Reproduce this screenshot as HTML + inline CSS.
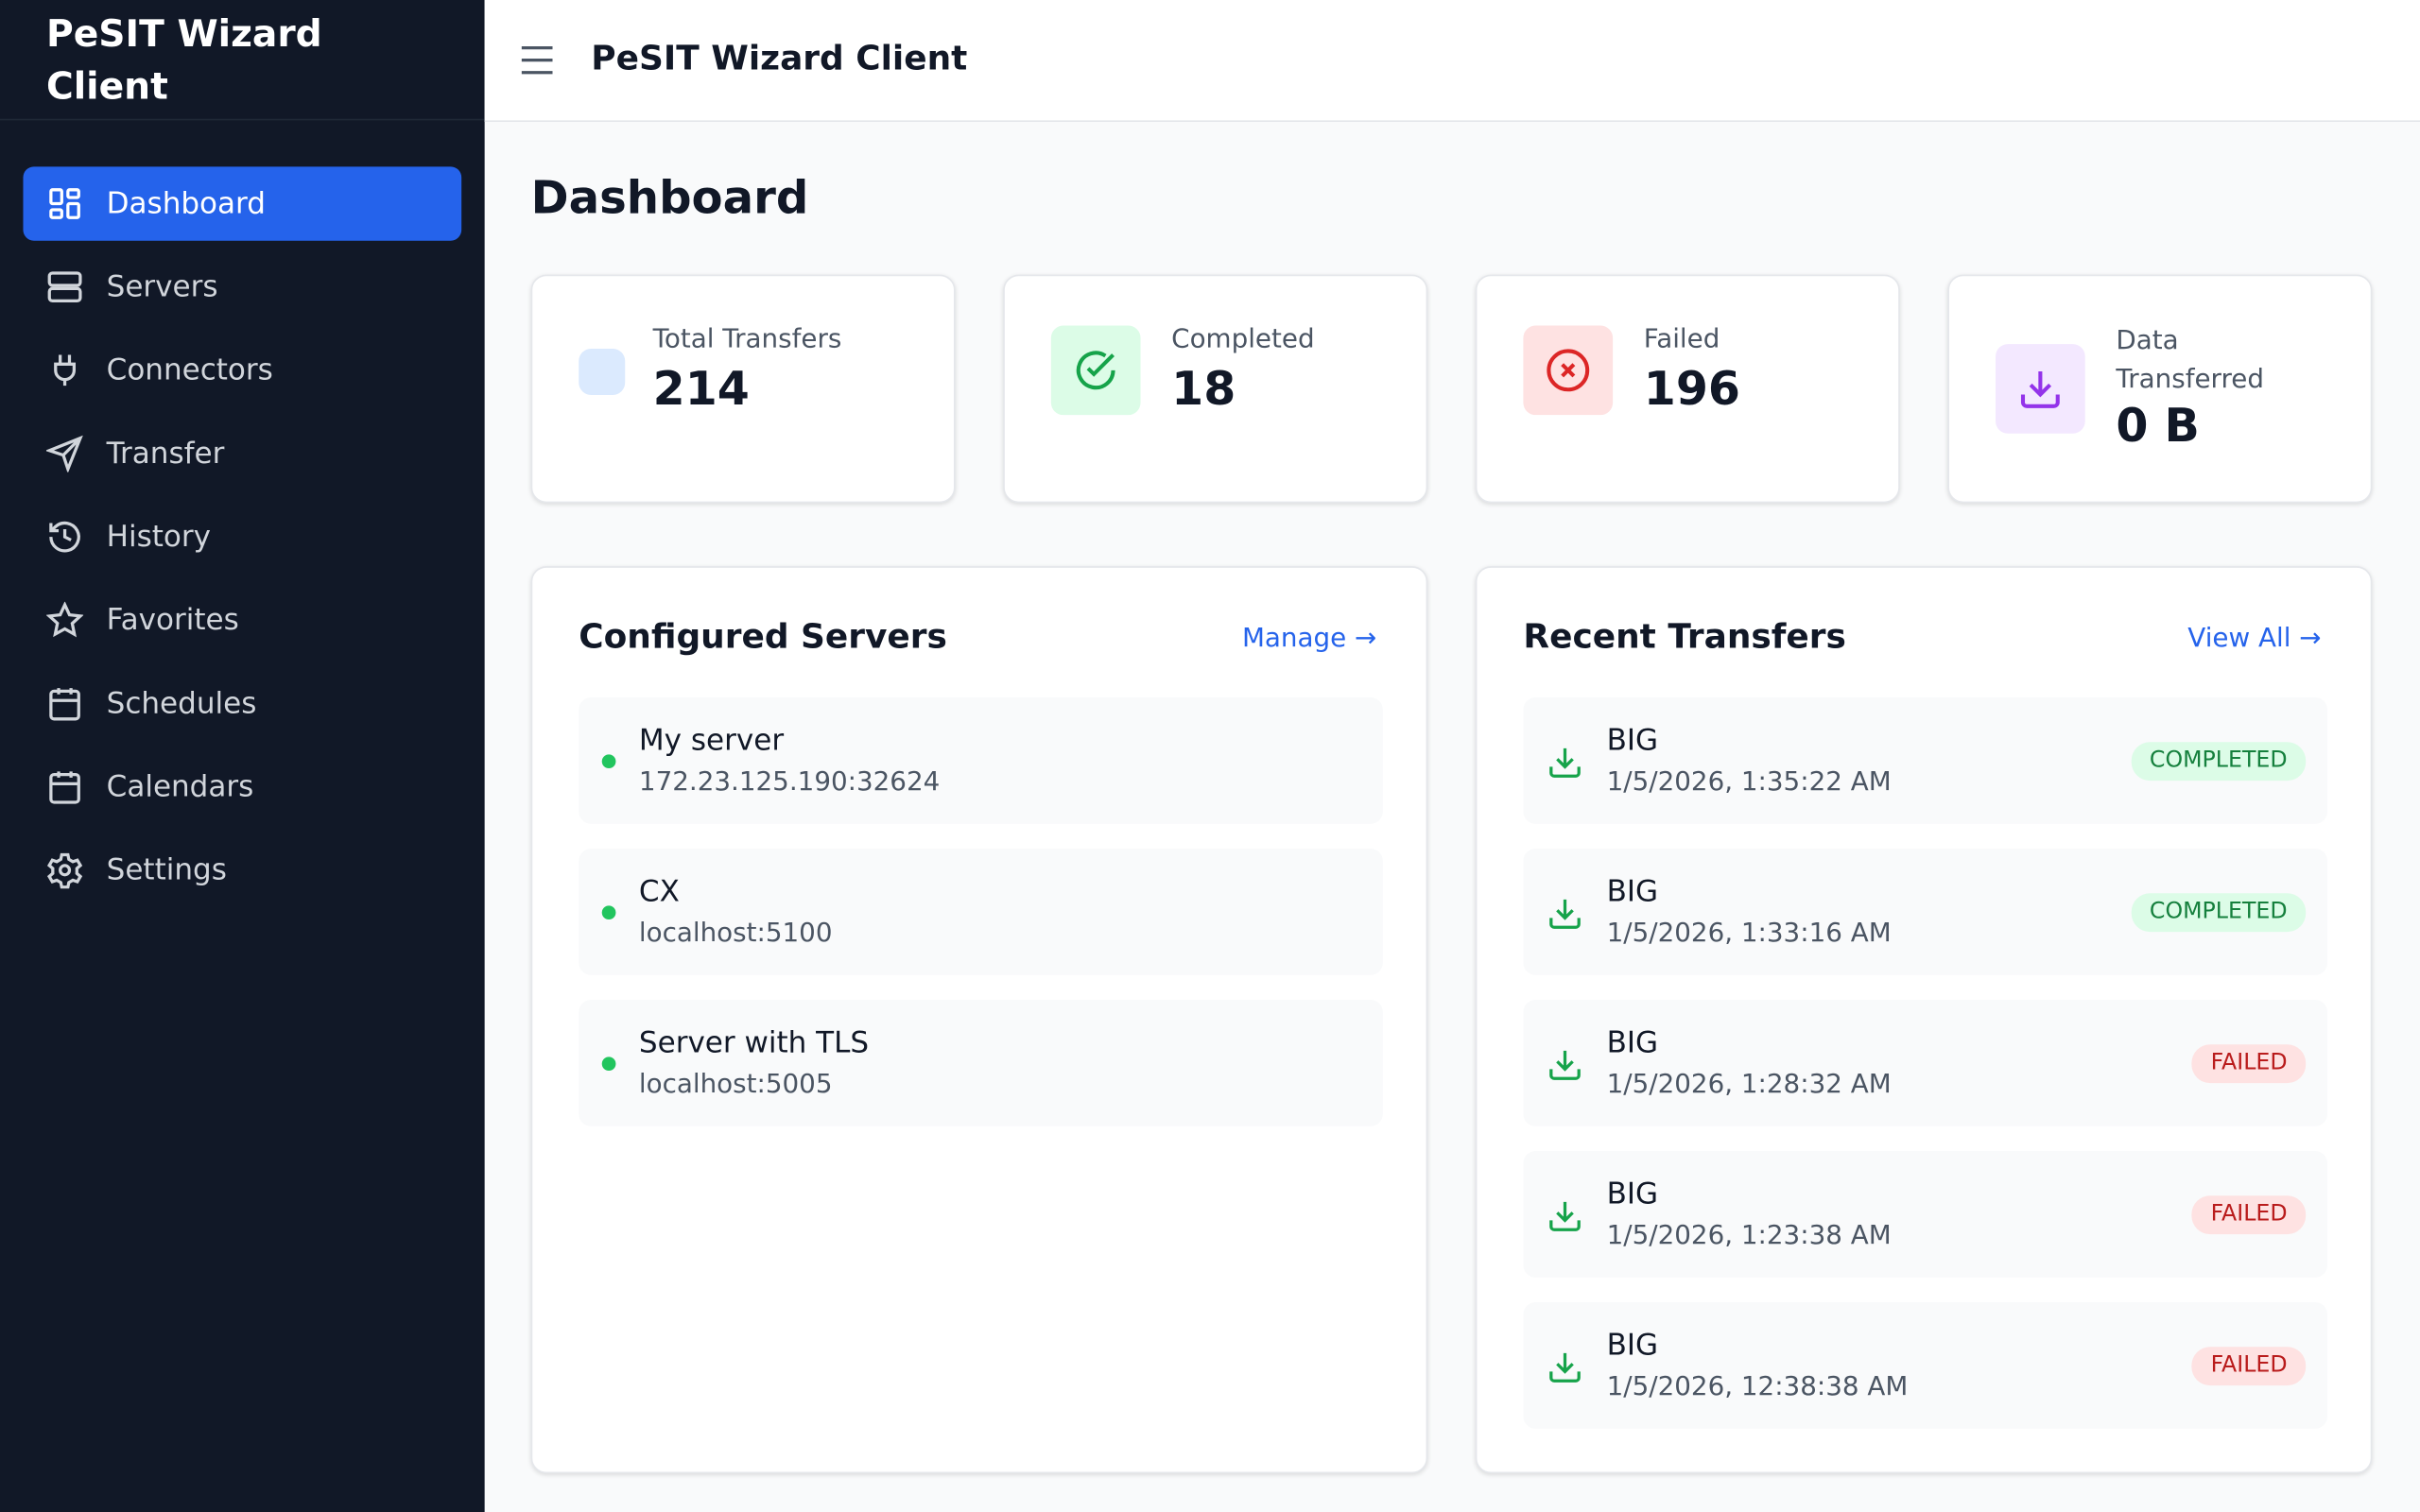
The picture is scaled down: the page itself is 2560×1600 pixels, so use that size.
<!DOCTYPE html>
<html><head><meta charset="utf-8"><style>
*{box-sizing:border-box;margin:0;padding:0}
html,body{width:2560px;height:1600px;overflow:hidden;background:#f9fafb}
#w{position:absolute;left:0;top:0;width:1568px;height:980px;transform:scale(1.632653);transform-origin:0 0;font-family:"DejaVu Sans","Liberation Sans",sans-serif;background:#f9fafb}
.sb{position:absolute;left:0;top:0;width:314px;height:980px;background:#111827}
.sbt{position:absolute;left:30px;top:5px;color:#fff;font-weight:bold;font-size:24px;line-height:34px}
.sbl{position:absolute;left:0;top:77px;width:314px;height:1px;background:#1f2937}
.nav{position:absolute;left:15px;width:284px;height:48px;border-radius:7px;color:#d1d5db;font-size:19px}
.nav.a{background:#2563eb;color:#fff}
.nav svg{position:absolute;left:15px;top:12px}
.nav span{position:absolute;left:54px;top:13px}
.hd{position:absolute;left:314px;top:0;width:1254px;height:79px;background:#fff;border-bottom:1px solid #e5e7eb}
.card{position:absolute;background:#fff;border:1px solid #e5e7eb;border-radius:10px;box-shadow:0 1px 3px rgba(0,0,0,.12)}
.ib{position:absolute;left:30px;top:32px;width:58px;height:58px;border-radius:8px}
.lab{position:absolute;left:108px;font-size:17px;color:#4b5563}
.val{position:absolute;left:108px;font-size:30px;font-weight:bold;color:#111827}
.pt{position:absolute;left:30px;top:33px;font-size:22px;font-weight:bold;color:#111827}
.lk{position:absolute;right:32px;top:36px;font-size:17px;color:#2563eb}
.it{position:absolute;left:30px;width:521px;height:82px;background:#f9fafb;border-radius:8px}
.n{position:absolute;left:39px;top:17px;font-size:19px;color:#111827}
.s{position:absolute;left:39px;top:45px;font-size:17px;color:#4b5563}
.dot{position:absolute;left:15px;top:37px;width:9px;height:9px;border-radius:50%;background:#22c55e}
.bd{position:absolute;right:14px;top:29px;height:25px;border-radius:12px;font-size:14.5px;line-height:25px;padding:0 12px}
.ok{background:#dcfce7;color:#15803d}.fl{background:#fee2e2;color:#b91c1c}
</style></head><body><div id="w">
<div class="sb">
<div class="sbt">PeSIT Wizard<br>Client</div><div class="sbl"></div>
<div class="nav a" style="top:108px"><svg width="24" height="24" viewBox="0 0 24 24" fill="none" stroke="#fff" stroke-width="2"><rect x="3" y="3" width="7" height="9" rx="1"/><rect x="14" y="3" width="7" height="5" rx="1"/><rect x="14" y="12" width="7" height="9" rx="1"/><rect x="3" y="16" width="7" height="5" rx="1"/></svg><span>Dashboard</span></div>
<div class="nav" style="top:162px"><svg width="24" height="24" viewBox="0 0 24 24" fill="none" stroke="#d1d5db" stroke-width="2"><rect x="2" y="3" width="20" height="8" rx="2"/><rect x="2" y="13" width="20" height="8" rx="2"/></svg><span>Servers</span></div>
<div class="nav" style="top:216px"><svg width="24" height="24" viewBox="0 0 24 24" fill="none" stroke="#d1d5db" stroke-width="2"><path d="M9 2v5M15 2v5M6 8h12v4a6 6 0 0 1-12 0zM12 18v4"/></svg><span>Connectors</span></div>
<div class="nav" style="top:270px"><svg width="24" height="24" viewBox="0 0 24 24" fill="none" stroke="#d1d5db" stroke-width="2"><path d="M22 2L2 10l9 3 3 9zM11 13l11-11"/></svg><span>Transfer</span></div>
<div class="nav" style="top:324px"><svg width="24" height="24" viewBox="0 0 24 24" fill="none" stroke="#d1d5db" stroke-width="2"><path d="M3 12a9 9 0 1 0 3-6.7L3 8M3 3v5h5M12 7v5l4 2"/></svg><span>History</span></div>
<div class="nav" style="top:378px"><svg width="24" height="24" viewBox="0 0 24 24" fill="none" stroke="#d1d5db" stroke-width="2"><path d="M12 2l3 6.5 7 .8-5.2 4.8 1.4 7L12 17.6 5.8 21l1.4-7L2 9.3l7-.8z"/></svg><span>Favorites</span></div>
<div class="nav" style="top:432px"><svg width="24" height="24" viewBox="0 0 24 24" fill="none" stroke="#d1d5db" stroke-width="2"><rect x="3" y="4" width="18" height="18" rx="2"/><path d="M3 10h18M8 2v4M16 2v4"/></svg><span>Schedules</span></div>
<div class="nav" style="top:486px"><svg width="24" height="24" viewBox="0 0 24 24" fill="none" stroke="#d1d5db" stroke-width="2"><rect x="3" y="4" width="18" height="18" rx="2"/><path d="M3 10h18M8 2v4M16 2v4M8 14h.01M12 14h.01M16 14h.01M8 18h.01M12 18h.01M16 18h.01"/></svg><span>Calendars</span></div>
<div class="nav" style="top:540px"><svg width="24" height="24" viewBox="0 0 24 24" fill="none" stroke="#d1d5db" stroke-width="2"><circle cx="12" cy="12" r="3"/><path d="M10 2h4l.6 3 2.6 1.5 2.9-1 2 3.4-2.3 2v3.2l2.3 2-2 3.4-2.9-1-2.6 1.5-.6 3h-4l-.6-3-2.6-1.5-2.9 1-2-3.4 2.3-2v-3.2l-2.3-2 2-3.4 2.9 1L9.4 5z"/></svg><span>Settings</span></div>
</div>
<div class="hd">
<svg style="position:absolute;left:22px;top:27px" width="24" height="24" viewBox="0 0 24 24" stroke="#4b5563" stroke-width="2"><path d="M2 4h20M2 12h20M2 20h20"/></svg>
<div style="position:absolute;left:69px;top:26px;font-size:22px;font-weight:bold;color:#111827">PeSIT Wizard Client</div>
</div>
<div style="position:absolute;left:344px;top:111px;font-size:29.5px;font-weight:bold;color:#111827">Dashboard</div>

<div class="card" style="left:344px;top:178px;width:275px;height:148px"><div class="ib" style="background:#dbeafe;width:30px;height:30px;top:47px"></div><div class="lab" style="top:31px;left:78px">Total Transfers</div><div class="val" style="top:56px;left:78px">214</div></div>
<div class="card" style="left:650px;top:178px;width:275px;height:148px"><div class="ib" style="background:#dcfce7"><svg style="margin:14px" width="30" height="30" viewBox="0 0 24 24" fill="none" stroke="#16a34a" stroke-width="2"><path d="M21 12a9 9 0 1 1-4-7.5"/><path d="M8 11l3 3 10-10"/></svg></div><div class="lab" style="top:31px">Completed</div><div class="val" style="top:56px">18</div></div>
<div class="card" style="left:956px;top:178px;width:275px;height:148px"><div class="ib" style="background:#fee2e2"><svg style="margin:14px" width="30" height="30" viewBox="0 0 24 24" fill="none" stroke="#dc2626" stroke-width="2"><circle cx="12" cy="12" r="10"/><path d="M9 9l6 6M15 9l-6 6"/></svg></div><div class="lab" style="top:31px">Failed</div><div class="val" style="top:56px">196</div></div>
<div class="card" style="left:1262px;top:178px;width:275px;height:148px"><div class="ib" style="background:#f3e8ff;top:44px"><svg style="margin:14px" width="30" height="30" viewBox="0 0 24 24" fill="none" stroke="#9333ea" stroke-width="2"><path d="M21 15v4a2 2 0 0 1-2 2H5a2 2 0 0 1-2-2v-4M7 10l5 5 5-5M12 15V3"/></svg></div><div class="lab" style="top:30px;line-height:25px">Data<br>Transferred</div><div class="val" style="top:80px">0 B</div></div>

<div class="card" style="left:344px;top:367px;width:581px;height:588px">
<div class="pt">Configured Servers</div><div class="lk">Manage →</div>
<div class="it" style="top:84px"><div class="dot"></div><div class="n">My server</div><div class="s">172.23.125.190:32624</div></div>
<div class="it" style="top:182px"><div class="dot"></div><div class="n">CX</div><div class="s">localhost:5100</div></div>
<div class="it" style="top:280px"><div class="dot"></div><div class="n">Server with TLS</div><div class="s">localhost:5005</div></div>
</div>
<div class="card" style="left:956px;top:367px;width:581px;height:588px">
<div class="pt">Recent Transfers</div><div class="lk">View All →</div>
<div class="it" style="top:84px"><svg style="position:absolute;left:15px;top:30px" width="24" height="24" viewBox="0 0 24 24" fill="none" stroke="#16a34a" stroke-width="2"><path d="M21 15v4a2 2 0 0 1-2 2H5a2 2 0 0 1-2-2v-4M7 10l5 5 5-5M12 15V3"/></svg><div class="n" style="left:54px">BIG</div><div class="s" style="left:54px">1/5/2026, 1:35:22 AM</div><div class="bd ok">COMPLETED</div></div>
<div class="it" style="top:182px"><svg style="position:absolute;left:15px;top:30px" width="24" height="24" viewBox="0 0 24 24" fill="none" stroke="#16a34a" stroke-width="2"><path d="M21 15v4a2 2 0 0 1-2 2H5a2 2 0 0 1-2-2v-4M7 10l5 5 5-5M12 15V3"/></svg><div class="n" style="left:54px">BIG</div><div class="s" style="left:54px">1/5/2026, 1:33:16 AM</div><div class="bd ok">COMPLETED</div></div>
<div class="it" style="top:280px"><svg style="position:absolute;left:15px;top:30px" width="24" height="24" viewBox="0 0 24 24" fill="none" stroke="#16a34a" stroke-width="2"><path d="M21 15v4a2 2 0 0 1-2 2H5a2 2 0 0 1-2-2v-4M7 10l5 5 5-5M12 15V3"/></svg><div class="n" style="left:54px">BIG</div><div class="s" style="left:54px">1/5/2026, 1:28:32 AM</div><div class="bd fl">FAILED</div></div>
<div class="it" style="top:378px"><svg style="position:absolute;left:15px;top:30px" width="24" height="24" viewBox="0 0 24 24" fill="none" stroke="#16a34a" stroke-width="2"><path d="M21 15v4a2 2 0 0 1-2 2H5a2 2 0 0 1-2-2v-4M7 10l5 5 5-5M12 15V3"/></svg><div class="n" style="left:54px">BIG</div><div class="s" style="left:54px">1/5/2026, 1:23:38 AM</div><div class="bd fl">FAILED</div></div>
<div class="it" style="top:476px"><svg style="position:absolute;left:15px;top:30px" width="24" height="24" viewBox="0 0 24 24" fill="none" stroke="#16a34a" stroke-width="2"><path d="M21 15v4a2 2 0 0 1-2 2H5a2 2 0 0 1-2-2v-4M7 10l5 5 5-5M12 15V3"/></svg><div class="n" style="left:54px">BIG</div><div class="s" style="left:54px">1/5/2026, 12:38:38 AM</div><div class="bd fl">FAILED</div></div>
</div>
</div></body></html>
